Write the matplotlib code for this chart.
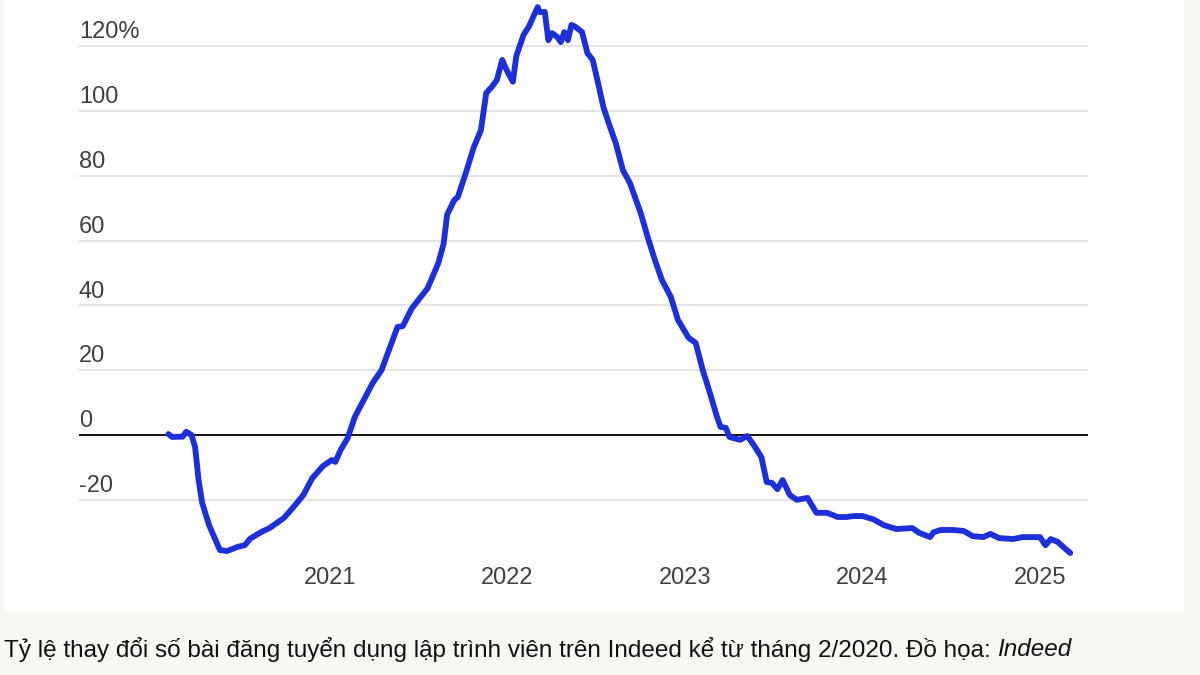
import matplotlib.pyplot as plt
from matplotlib.patches import Rectangle

years = [
    2020.09, 2020.11, 2020.17, 2020.19, 2020.22, 2020.24, 2020.26, 2020.28, 2020.32, 2020.38,
    2020.42, 2020.48, 2020.52, 2020.55, 2020.61, 2020.66, 2020.74, 2020.79, 2020.85, 2020.90,
    2020.96, 2021.01, 2021.03, 2021.06, 2021.10, 2021.14, 2021.19, 2021.24, 2021.29, 2021.38,
    2021.41, 2021.46, 2021.55, 2021.61, 2021.64, 2021.66, 2021.70, 2021.72, 2021.77, 2021.81,
    2021.85, 2021.88, 2021.91, 2021.94, 2021.97, 2022.00, 2022.03, 2022.05, 2022.09, 2022.12,
    2022.15, 2022.17, 2022.18, 2022.21, 2022.23, 2022.25, 2022.28, 2022.30, 2022.32, 2022.34,
    2022.36, 2022.38, 2022.42, 2022.45, 2022.48, 2022.51, 2022.54, 2022.57, 2022.61, 2022.65,
    2022.69, 2022.75, 2022.79, 2022.83, 2022.87, 2022.92, 2022.96, 2023.02, 2023.06, 2023.10,
    2023.14, 2023.18, 2023.20, 2023.23, 2023.25, 2023.31, 2023.35, 2023.38, 2023.43, 2023.46,
    2023.49, 2023.52, 2023.55, 2023.59, 2023.63, 2023.69, 2023.74, 2023.80, 2023.86, 2023.91,
    2023.95, 2024.00, 2024.06, 2024.12, 2024.19, 2024.28, 2024.32, 2024.38, 2024.40, 2024.44,
    2024.51, 2024.57, 2024.62, 2024.68, 2024.72, 2024.77, 2024.85, 2024.90, 2024.96, 2025.00,
    2025.03, 2025.06, 2025.10, 2025.13, 2025.17,
]
change = [
    0.3, -0.6, -0.5, 1.0, 0.0, -3.7, -14.0, -21.0, -28.0, -35.5,
    -35.8, -34.5, -34.0, -32.0, -30.0, -28.7, -25.6, -22.5, -18.5, -13.3,
    -9.6, -7.7, -8.3, -4.6, -0.9, 5.6, 10.8, 16.0, 20.0, 33.3,
    33.6, 39.0, 45.3, 53.0, 59.0, 68.0, 72.5, 73.4, 81.7, 88.8,
    94.0, 105.5, 107.3, 109.5, 115.7, 112.0, 109.0, 117.0, 123.4, 126.0,
    129.6, 132.0, 130.5, 130.5, 121.8, 124.0, 122.8, 121.2, 124.3, 121.8,
    126.5, 126.0, 124.3, 117.8, 115.7, 108.6, 101.2, 96.2, 90.0, 81.7,
    77.7, 68.5, 61.0, 54.0, 47.8, 42.6, 35.5, 30.0, 28.4, 20.0,
    13.0, 5.6, 2.5, 2.2, -0.6, -1.5, -0.3, -2.5, -6.8, -14.5,
    -14.8, -16.7, -13.9, -18.5, -20.0, -19.4, -24.0, -24.0, -25.3, -25.3,
    -25.0, -25.0, -26.0, -27.8, -29.0, -28.7, -30.2, -31.5, -30.0, -29.3,
    -29.3, -29.6, -31.2, -31.5, -30.5, -31.8, -32.1, -31.5, -31.5, -31.5,
    -34.0, -32.1, -33.0, -34.5, -36.4,
]
grid_values = [120, 100, 80, 60, 40, 20, -20]
grid_labels = ['120%', '100', '80', '60', '40', '20', '-20']
year_ticks = [2021, 2022, 2023, 2024, 2025]
caption = 'Tỷ lệ thay đổi số bài đăng tuyển dụng lập trình viên trên Indeed kể từ tháng 2/2020. Đồ họa: '

W, H = 1200, 675
fig = plt.figure(figsize=(W / 100, H / 100), dpi=100)
fig.patch.set_facecolor('#f8f7f3')
# white chart panel
fig.patches.append(Rectangle((4 / W, 1 - 612 / H), 1180 / W, 612 / H,
                             transform=fig.transFigure, facecolor='white',
                             edgecolor='none', zorder=-5))

ax = fig.add_axes([79 / W, 1 - 560 / H, (1088 - 79) / W, 560 / H])
ax.set_facecolor('none')
ax.set_xlim(2019.586, 2025.27)
ax.set_ylim(-38.56, 134.2)

for v in grid_values:
    ax.axhline(v, color='#e4e4e4', lw=1.5, zorder=1)
for v, lab in zip(grid_values + [0], grid_labels + ['0']):
    ax.annotate(lab, xy=(0, v), xycoords=('axes fraction', 'data'),
                xytext=(0, 2), textcoords='offset points',
                ha='left', va='bottom', fontsize=17, color='#404040',
                family='Liberation Sans')
ax.axhline(0, color='black', lw=1.3, zorder=2)

ax.plot(years, change, color='#1c2fd9', lw=4.2, solid_joinstyle='round',
        solid_capstyle='round', zorder=3, clip_on=False)

ax.set_yticks([])
ax.set_xticks(year_ticks)
ax.set_xticklabels([str(y) for y in year_ticks], fontsize=17, color='#404040',
                   family='Liberation Sans')
ax.tick_params(axis='x', length=0, pad=5)
for s in ax.spines.values():
    s.set_visible(False)

t = fig.text(4 / W, 1 - 650 / H, caption, ha='left', va='center',
             fontsize=17.5, color='#111111', family='Liberation Sans')
fig.canvas.draw()
bb = t.get_window_extent()
fig.text(bb.x1 / W, 1 - 650 / H, 'Indeed', ha='left', va='center',
         fontsize=17.5, color='#111111', family='Liberation Sans', style='italic')

fig.savefig('out.png', dpi=100, facecolor=fig.get_facecolor())
